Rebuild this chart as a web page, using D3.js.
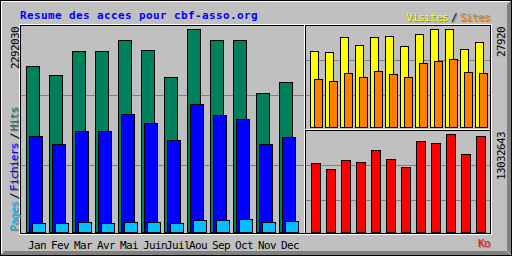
<!DOCTYPE html>
<meta charset="utf-8">
<style>
body { margin: 0; background: #fff; }
svg { display: block; }
text { font-family: "DejaVu Sans Mono", monospace; font-size: 11px; letter-spacing: -0.62px; }
.title { font-weight: bold; letter-spacing: 0.38px; }
</style>
<svg width="512" height="256"></svg>
<script src="https://d3js.org/d3.v7.min.js"></script>
<script>
// monthly usage summary (webalizer style)
var months = ["Jan","Fev","Mar","Avr","Mai","Juin","Juil","Aou","Sep","Oct","Nov","Dec"];
var hits = [1870400, 1769300, 2040100, 2040100, 2163800, 2051300, 1746500, 2292030, 2166500, 2165100, 1565500, 1689200];
var fichiers = [1080000, 990200, 1137500, 1136800, 1329400, 1226000, 1036100, 1441700, 1318000, 1276600, 989800, 1068100];
var pages = [101200, 100800, 112400, 101500, 112900, 111800, 100600, 135300, 134700, 146900, 112100, 123800];
var visites = [21560, 21280, 25550, 23290, 25550, 25830, 22980, 26410, 27920, 27900, 22140, 24120];
var sites = [13590, 13000, 15290, 14150, 15860, 15010, 14150, 18140, 18710, 19280, 15580, 15290];
var ko = [9136000, 8380000, 9540000, 9266000, 10869000, 9670000, 8601000, 12055000, 11794000, 13032643, 10335000, 12733000];

var grey = "#c0c0c0", dkgrey = "#808080", white = "#ffffff", black = "#000000";

var svg = d3.select("svg").attr("shape-rendering", "crispEdges");

function line(x1, y1, x2, y2, c) {
  svg.append("line").attr("x1", x1).attr("y1", y1).attr("x2", x2).attr("y2", y2)
    .attr("stroke", c).attr("stroke-width", 1);
}

// background + 3d border
svg.append("rect").attr("width", 512).attr("height", 256).attr("fill", grey);
line(1, 1.5, 511, 1.5, white);
line(1.5, 1, 1.5, 255, white);
for (var i = 1; i <= 4; i++) {
  line(i, 255 - i + 0.5, 511 - i, 255 - i + 0.5, dkgrey);
  line(511 - i + 0.5, i, 511 - i + 0.5, 255 - i, dkgrey);
}
svg.append("rect").attr("x", 0.5).attr("y", 0.5).attr("width", 511).attr("height", 255)
  .attr("fill", "none").attr("stroke", black);

// inner frames
svg.append("rect").attr("x", 19.5).attr("y", 24.5).attr("width", 472).attr("height", 210)
  .attr("fill", "none").attr("stroke", white);
svg.append("rect").attr("x", 20.5).attr("y", 25.5).attr("width", 470).attr("height", 208)
  .attr("fill", "none").attr("stroke", black);

// grid lines
[95, 165].forEach(function(y) { line(21, y + 0.5, 304, y + 0.5, dkgrey); });
[60, 95, 165, 200].forEach(function(y) { line(306, y + 0.5, 490, y + 0.5, dkgrey); });

// section lines
line(304.5, 25, 304.5, 233, white);
line(305.5, 25, 305.5, 233, black);
line(305, 129.5, 490, 129.5, white);
line(305, 130.5, 490, 130.5, black);

// scales
var x = d3.scaleBand().domain(months).range([26, 26 + 12 * 23]);
var xr = d3.scaleBand().domain(months).range([310, 310 + 12 * 15]);
var y = d3.scaleLinear().domain([0, d3.max(hits)]).range([232, 29]);
var yv = d3.scaleLinear().domain([0, d3.max(visites)]).range([127, 29]);
var yk = d3.scaleLinear().domain([0, d3.max(ko)]).range([232, 134]);

function bars(data, xs, off, w, ys, base, color) {
  svg.append("g").selectAll("rect").data(data).join("rect")
    .attr("x", function(d, i) { return xs(months[i]) + off + 0.5; })
    .attr("y", function(d) { return Math.round(ys(d)) + 0.5; })
    .attr("width", w)
    .attr("height", function(d) { return base - Math.round(ys(d)); })
    .attr("fill", color)
    .attr("stroke", black);
}

bars(hits, x, 0, 13, y, 232, "#00805c");
bars(fichiers, x, 3, 13, y, 232, "#0000ff");
bars(pages, x, 6, 13, y, 232, "#00c0ff");
bars(visites, xr, 0, 8, yv, 127, "#ffff00");
bars(sites, xr, 4, 8, yv, 127, "#ff8000");
bars(ko, xr, 1, 9, yk, 232, "#ff0000");

var txt = svg.append("g").attr("shape-rendering", null);

// title
txt.append("text").attr("class", "title").attr("x", 20).attr("y", 19)
  .attr("fill", "#0000ff").text("Resume des acces pour cbf-asso.org");

// month labels
txt.selectAll("text.m").data(months).join("text").attr("class", "m")
  .attr("x", function(d) { return x(d) + 2; })
  .attr("y", 249)
  .attr("fill", black)
  .text(function(d) { return d; });

// shadowed label helper
function shadowText(tx, ty, s, color, rot) {
  [[1, dkgrey], [0, color]].forEach(function(p) {
    var t = txt.append("text").text(s).attr("fill", p[1]);
    if (rot) t.attr("transform", "translate(" + (tx + p[0]) + "," + (ty + p[0]) + ") rotate(-90)");
    else t.attr("x", tx + p[0]).attr("y", ty + p[0]);
  });
}

shadowText(406, 21, "Visites", "#ffff00");
shadowText(451, 21, "/", black);
shadowText(460, 21, "Sites", "#ff8000");
shadowText(478, 247, "Ko", "#ff0000");

shadowText(18, 231, "Pages", "#00c0ff", true);
shadowText(18, 199, "/", black, true);
shadowText(18, 191, "Fichiers", "#0000ff", true);
shadowText(18, 139, "/", black, true);
shadowText(18, 131, "Hits", "#00805c", true);

// max values
function maxLabel(tx, top, v) {
  var s = String(v);
  txt.append("text").attr("fill", black)
    .attr("transform", "translate(" + tx + "," + (top + s.length * 6 + 1) + ") rotate(-90)")
    .text(s);
}
maxLabel(19, 26, d3.max(hits));
maxLabel(505, 26, d3.max(visites));
maxLabel(505, 131, d3.max(ko));
</script>
